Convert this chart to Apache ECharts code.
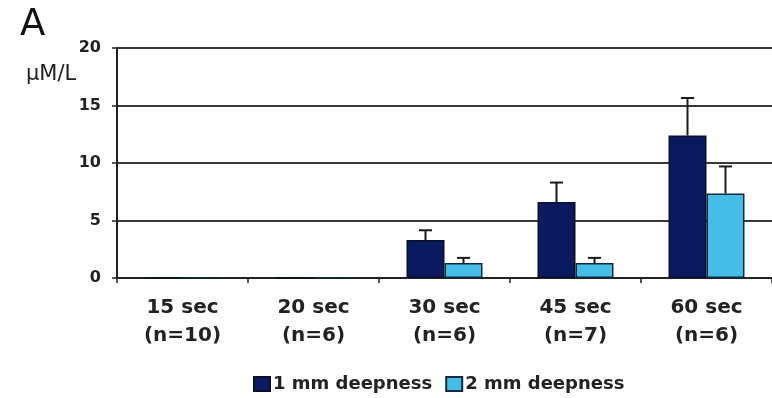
<!DOCTYPE html>
<html><head><meta charset="utf-8">
<script src="https://cdn.jsdelivr.net/npm/echarts@6/dist/echarts.min.js"></script>
<style>html,body{margin:0;padding:0;background:#fff}#c{width:772px;height:398px}</style>
</head><body><div id="c"></div>
<script>
const categories = ['15 sec\n(n=10)', '20 sec\n(n=6)', '30 sec\n(n=6)', '45 sec\n(n=7)', '60 sec\n(n=6)'];
const seriesNames = ['1 mm deepness', '2 mm deepness'];
const mean1mm = [0, 0, 3.3, 6.6, 12.4];
const err1mm = [0, 0, 0.85, 1.7, 3.25];
const mean2mm = [0, 0, 1.3, 1.3, 7.35];
const err2mm = [0, 0, 0.45, 0.45, 2.35];
const yTicks = [0, 5, 10, 15, 20];

const BW = 0.29; // each bar's share of a category
const chart = echarts.init(document.getElementById('c'));
const font = '"DejaVu Sans", sans-serif';

function errSeries(means, errs, side) {
  return {
    type: 'custom',
    z: 5,
    silent: true,
    data: means.map((m, i) => [i, m, errs[i]]),
    renderItem: function (params, api) {
      const i = api.value(0), m = api.value(1), e = api.value(2);
      if (!e) return null;
      const band = api.size([1, 0])[0];
      const base = api.coord([i, m]);
      const top = api.coord([i, m + e]);
      const x = base[0] + side * band * BW / 2;
      const cap = band * 0.05;
      const st = { stroke: '#1a1a1a', lineWidth: 2 };
      return {
        type: 'group',
        children: [
          { type: 'line', shape: { x1: x, y1: base[1], x2: x, y2: top[1] }, style: st },
          { type: 'line', shape: { x1: x - cap, y1: top[1], x2: x + cap, y2: top[1] }, style: st }
        ]
      };
    }
  };
}

chart.setOption({
  animation: false,
  backgroundColor: '#fff',
  graphic: [
    { type: 'text', left: 20, top: 7, style: { text: 'A', font: '37px ' + font, fill: '#111' } },
    { type: 'text', left: 26, top: 64, style: { text: 'µM/L', font: '21px ' + font, fill: '#222' } }
  ],
  legend: {
    top: 370, left: 248,
    icon: 'rect',
    itemWidth: 16, itemHeight: 14, itemGap: 13,
    textStyle: { fontFamily: font, fontWeight: 'bold', fontSize: 18, color: '#222', padding: [0, 0, 0, -2] },
    data: seriesNames
  },
  grid: { left: 117, right: 0, top: 48, bottom: 120 },
  xAxis: {
    type: 'category',
    data: categories,
    axisLine: { lineStyle: { color: '#222', width: 2 } },
    axisTick: { show: true, alignWithLabel: false, length: 5, lineStyle: { color: '#222', width: 1.5 } },
    axisLabel: { fontFamily: font, fontWeight: 'bold', fontSize: 20, color: '#222', margin: 16, lineHeight: 28 }
  },
  yAxis: {
    type: 'value',
    min: yTicks[0], max: yTicks[yTicks.length - 1], interval: 5,
    axisLine: { show: true, lineStyle: { color: '#222', width: 2 } },
    axisTick: { show: true, length: 5, lineStyle: { color: '#222', width: 1.5 } },
    axisLabel: { fontFamily: font, fontWeight: 'bold', fontSize: 16, color: '#222', margin: 16 },
    splitLine: { lineStyle: { color: '#3a3a3a', width: 2 } }
  },
  series: [
    {
      name: seriesNames[0], type: 'bar', data: mean1mm,
      barWidth: (BW * 100) + '%', barGap: '0%',
      itemStyle: { color: '#0b1a5e', borderColor: '#0a0f2a', borderWidth: 1.5 }
    },
    {
      name: seriesNames[1], type: 'bar', data: mean2mm,
      barWidth: (BW * 100) + '%', barGap: '0%',
      itemStyle: { color: '#45bde8', borderColor: '#0d2a3a', borderWidth: 1.5 }
    },
    errSeries(mean1mm, err1mm, -1),
    errSeries(mean2mm, err2mm, 1)
  ]
});
</script></body></html>
